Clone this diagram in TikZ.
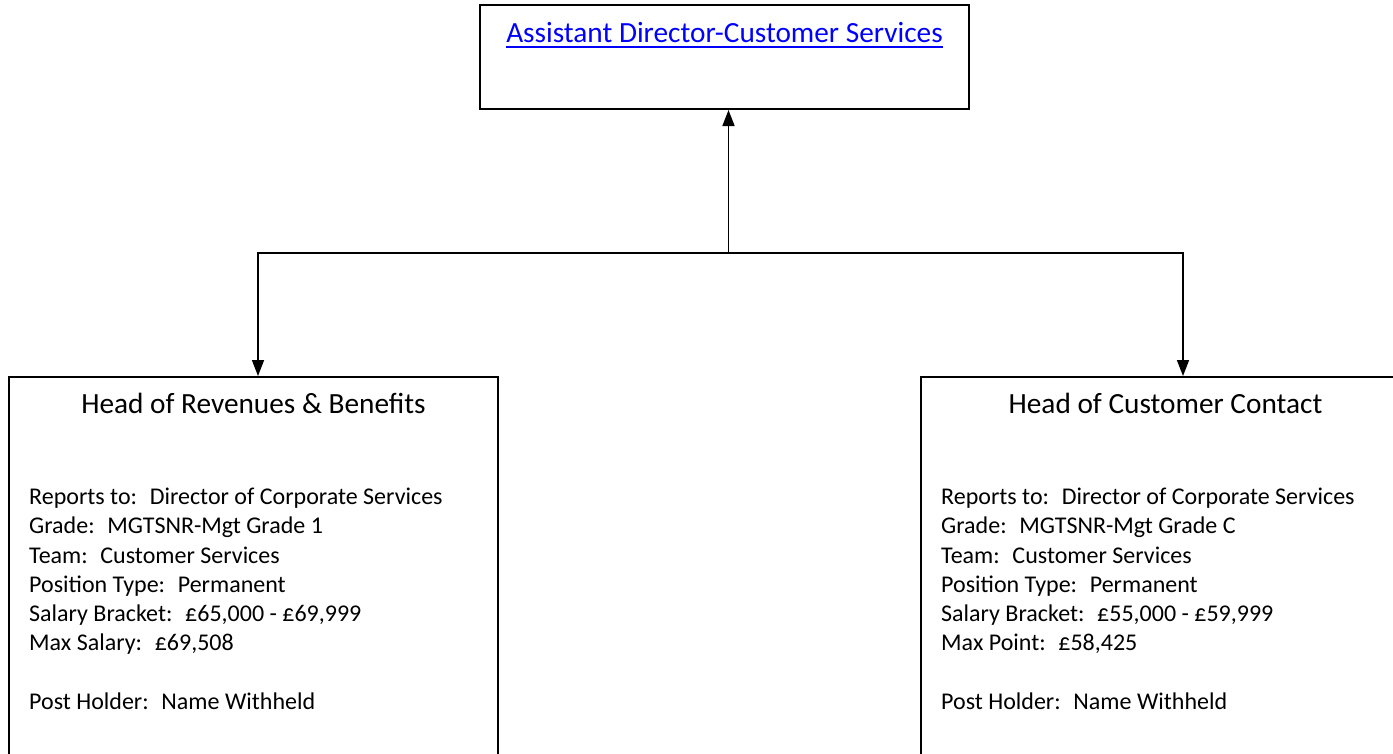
\documentclass[tikz,border=0pt]{standalone}
\usepackage{fontspec}
\setmainfont{Carlito}
\usetikzlibrary{arrows.meta,positioning,calc}

\definecolor{linkblue}{RGB}{0,0,255}

\begin{document}
\begin{tikzpicture}[x=1pt,y=-1pt,
		post/.style={draw, line width=2pt, minimum width=489pt, minimum height=413pt},
		link/.style={line width=1.6pt, -{Triangle[width=12pt,length=16pt]}},
		heading/.style={inner sep=0pt, anchor=base, font=\fontsize{29.3}{34}\selectfont},
		details/.style={inner sep=0pt, anchor=base west, align=left, font=\fontsize{24}{29.2}\selectfont}]
	\useasboundingbox (0,0) rectangle (1393,753);
	\clip (0,0) rectangle (1393,753);

	% boxes
	\node [draw, line width=2pt, minimum width=489pt, minimum height=104pt] (director) at (724.5,57) {};
	\node [post] (revenues) at (253.5,583.5) {};
	\node [post] (contact) at (1165.5,583.5) {};

	% titles
	\node [heading, text=linkblue] (directortitle) at ($(director.north)+(0,38)$) {Assistant Director-Customer Services};
	\draw [linkblue, line width=1.6pt] ($(directortitle.base west)+(0,5)$) -- ($(directortitle.base east)+(0,5)$);
	\node [heading] (revenuestitle) at ($(revenues.north)+(0,37)$) {Head of Revenues \& Benefits};
	\node [heading] (contacttitle) at ($(contact.north)+(0,37)$) {Head of Customer Contact};

	% post details (anchored on the last line)
	\node [details] (revenuesinfo) at ($(revenues.north west)+(21,333)$) {Reports to:~ Director of Corporate Services\\
		Grade:~ MGTSNR-Mgt Grade 1\\
		Team:~ Customer Services\\
		Position Type:~ Permanent\\
		Salary Bracket:~ £65,000 - £69,999\\
		Max Salary:~ £69,508\\[29.2pt]
		Post Holder:~ Name Withheld};
	\node [details] (contactinfo) at ($(contact.north west)+(21,333)$) {Reports to:~ Director of Corporate Services\\
		Grade:~ MGTSNR-Mgt Grade C\\
		Team:~ Customer Services\\
		Position Type:~ Permanent\\
		Salary Bracket:~ £55,000 - £59,999\\
		Max Point:~ £58,425\\[29.2pt]
		Post Holder:~ Name Withheld};

	% reporting lines
	\coordinate (junction) at (728.5,253);
	\draw [link] (junction) -- (junction |- director.south);
	\draw [link] (junction) -| ([xshift=4.5pt]revenues.north);
	\draw [link] (junction) -| ([xshift=17.5pt]contact.north);
\end{tikzpicture}
\end{document}
